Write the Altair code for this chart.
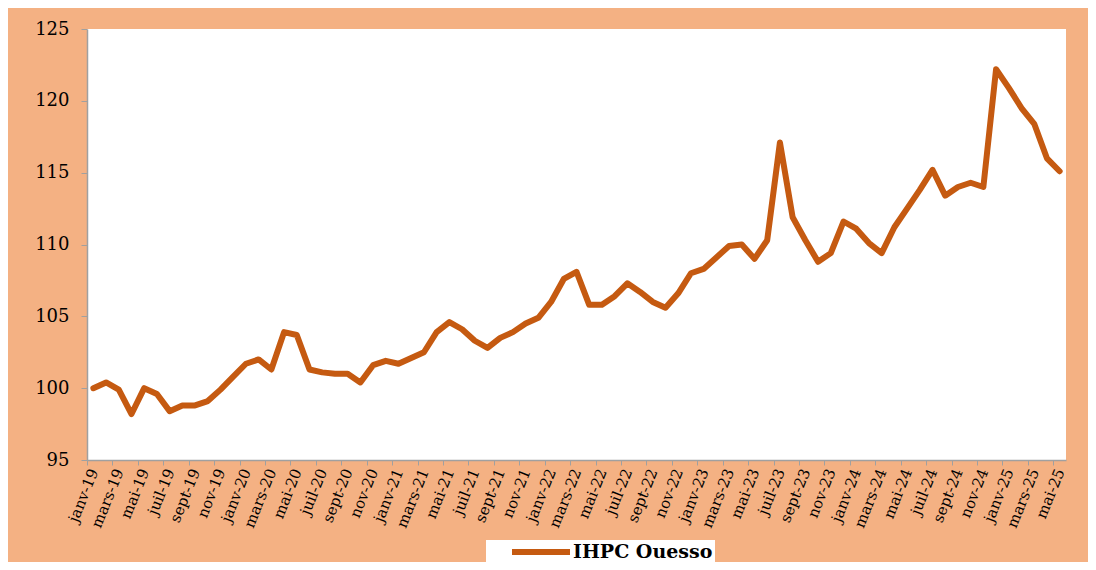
import altair as alt
import pandas as pd

mois_noms = ["janv", "févr", "mars", "avr", "mai", "juin", "juil", "août", "sept", "oct", "nov", "déc"]
annees = ["19", "20", "21", "22", "23", "24", "25"]
mois = [f"{m}-{a}" for a in annees for m in mois_noms][:77]

ihpc = [
    100.0, 100.4, 99.9, 98.2, 100.0, 99.6, 98.4, 98.8, 98.8, 99.1, 99.9, 100.8,
    101.7, 102.0, 101.3, 103.9, 103.7, 101.3, 101.1, 101.0, 101.0, 100.4, 101.6, 101.9,
    101.7, 102.1, 102.5, 103.9, 104.6, 104.1, 103.3, 102.8, 103.5, 103.9, 104.5, 104.9,
    106.0, 107.6, 108.1, 105.8, 105.8, 106.4, 107.3, 106.7, 106.0, 105.6, 106.6, 108.0,
    108.3, 109.1, 109.9, 110.0, 109.0, 110.3, 117.1, 111.9, 110.3, 108.8, 109.4, 111.6,
    111.1, 110.1, 109.4, 111.2, 112.5, 113.8, 115.2, 113.4, 114.0, 114.3, 114.0, 122.2,
    120.9, 119.5, 118.4, 116.0, 115.1,
]
serie = "IHPC Ouesso"
y_ticks = [95, 100, 105, 110, 115, 120, 125]

df = pd.DataFrame({"mois": mois, "valeur": ihpc, "serie": [serie] * len(mois)})

W, H = 979, 431
half_step = W / len(mois) / 2
FONT = "DejaVu Serif"
GREY = "#A0A0A0"

chart = (
    alt.Chart(df)
    .mark_line(strokeWidth=6, strokeCap="round", strokeJoin="round")
    .encode(
        x=alt.X(
            "mois:O",
            sort=mois,
            scale=alt.Scale(padding=0.5),
            axis=alt.Axis(
                title=None,
                values=mois[::2],
                labelAngle=-68,
                labelAlign="right",
                labelBaseline="middle",
                labelFont=FONT,
                labelFontSize=15,
                labelColor="black",
                labelPadding=4,
                tickOffset=-half_step,
                labelOffset=half_step,
                tickSize=5,
                tickColor=GREY,
                domainColor=GREY,
                domainWidth=1.5,
                grid=False,
            ),
        ),
        y=alt.Y(
            "valeur:Q",
            scale=alt.Scale(domain=[95, 125], nice=False, zero=False),
            axis=alt.Axis(
                title=None,
                values=y_ticks,
                labelFont=FONT,
                labelFontSize=18,
                labelColor="black",
                labelPadding=12,
                tickSize=6,
                tickColor=GREY,
                domainColor=GREY,
                domainWidth=1.5,
                grid=False,
            ),
        ),
        color=alt.Color(
            "serie:N",
            scale=alt.Scale(range=["#C55A11"]),
            legend=alt.Legend(
                title=None,
                orient="none",
                legendX=399,
                legendY=511,
                direction="horizontal",
                fillColor="white",
                padding=2,
                clipHeight=20,
                symbolType="stroke",
                symbolSize=3364,
                symbolStrokeWidth=6,
                symbolOffset=21,
                labelFont=FONT,
                labelFontSize=19,
                labelFontWeight="bold",
                labelColor="black",
                labelOffset=0,
                labelExpr="datum.label + '\u00a0\u00a0\u00a0'",
            ),
        ),
    )
    .properties(
        width=W,
        height=H,
        background="#F4B183",
        padding={"left": 79, "top": 21, "right": 22, "bottom": 102},
        autosize=alt.AutoSizeParams(type="none"),
    )
    .configure_view(fill="white", strokeWidth=0)
)

chart.save("out.html", embed_options={"renderer": "svg", "actions": False})
